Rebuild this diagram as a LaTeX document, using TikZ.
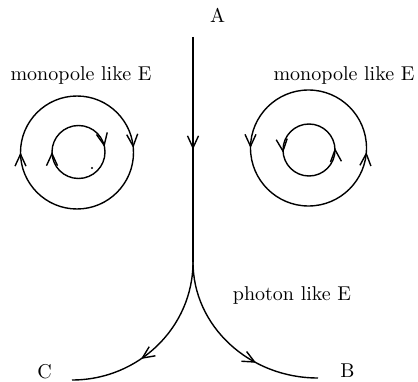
\documentclass[tikz,border=0pt]{standalone}
\usetikzlibrary{arrows.meta,decorations.markings}
\begin{document}
\begin{tikzpicture}[x=0.5pt,y=0.5pt,
  line/.style={line width=0.7pt},
  >={Straight Barb[length=6pt,width=5.5pt,line width=0.7pt]},
  arrs/.style 2 args={line,decoration={markings,
      mark=at position #1 with {\arrow{>}},
      mark=at position #2 with {\arrow{>}}},postaction={decorate}},
  arr/.style={line,decoration={markings,
      mark=at position #1 with {\arrow{>}}},postaction={decorate}},
  lbl/.style={inner sep=0pt,font=\normalsize}]
\useasboundingbox (0,0) rectangle (418,381);
% labels
\node[lbl] (A) at (217.5,366) {A};
\node[lbl] (B) at (347.5,10.5) {B};
\node[lbl] (C) at (44.5,9) {C};
\node[lbl] (ml) at (81,305.5) {monopole like E};
\node[lbl] (mr) at (344,305.5) {monopole like E};
\node[lbl] (ph) at (292,86) {photon like E};
% main line and branches
\coordinate (top) at (193,344);
\coordinate (split) at (193,119);
\coordinate (cend) at (72,1);
\coordinate (bend) at (318,3);
\draw[arr=0.5] (top) -- (split);
\draw[arr=0.61] (split) .. controls (193,53.9) and (138.8,1) .. (cend);
\draw[arr=0.66] (split) .. controls (193,55) and (249,3) .. (bend);
% left circles (clockwise, starting at top)
\draw[arrs={0.237}{0.75}] (77,285) arc[start angle=90,end angle=-270,radius=56.5];
\draw[arrs={0.219}{0.75}] (78.5,255.5) arc[start angle=90,end angle=-270,radius=26.5];
\fill (92,213) circle[radius=0.6pt];
% right circles (counterclockwise, starting at top)
\draw[arrs={0.25}{0.739}] (308.5,291) arc[start angle=90,end angle=450,radius=58];
\draw[arrs={0.267}{0.762}] (309,257) arc[start angle=90,end angle=450,radius=26];
\end{tikzpicture}
\end{document}
